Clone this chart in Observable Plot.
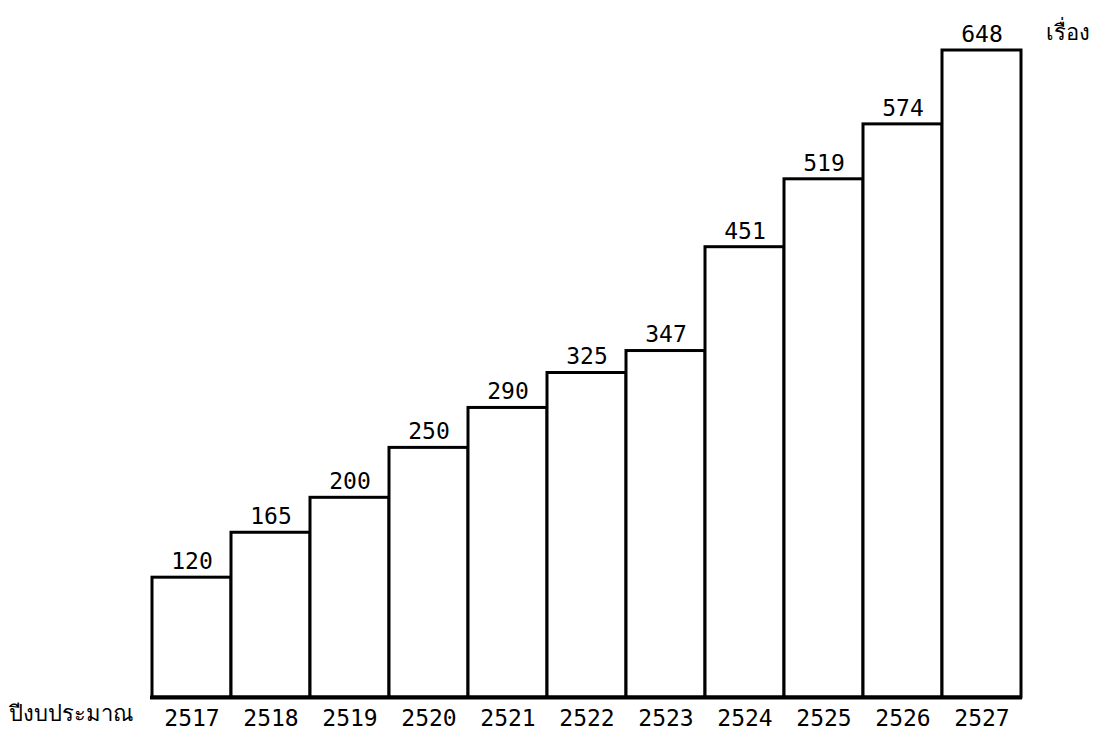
<!DOCTYPE html>
<html>
<head>
<meta charset="utf-8">
<script src="https://cdn.jsdelivr.net/npm/d3@7"></script>
<script src="https://cdn.jsdelivr.net/npm/@observablehq/plot@0.6"></script>
<style>
  html, body { margin: 0; padding: 0; background: #fff; }
  svg { display: block; }
</style>
</head>
<body>
<div id="chart"></div>
<script>
const years = ["2517","2518","2519","2520","2521","2522","2523","2524","2525","2526","2527"];
const counts = [120,165,200,250,290,325,347,451,519,574,648];
const xAxisTitle = "ปีงบประมาณ";
const yAxisTitle = "เรื่อง";

const data = years.map((y, i) => ({year: y, count: counts[i]}));
const font = "'DejaVu Sans Mono', 'Liberation Mono', monospace";
const thaiFont = "'Noto Sans', 'DejaVu Sans', sans-serif";

const chart = Plot.plot({
  width: 1110,
  height: 744,
  marginLeft: 150,
  marginRight: 88,
  marginTop: 50,
  marginBottom: 47,
  style: {fontFamily: font, fontSize: "23px", color: "#000", background: "#fff"},
  x: {domain: years, padding: 0, label: null},
  y: {domain: [0, 648], axis: null},
  marks: [
    Plot.barY(data, {x: "year", y: "count", fill: "#fff", stroke: "#000", strokeWidth: 3, inset: 0}),
    Plot.ruleY([0], {stroke: "#000", strokeWidth: 4}),
    Plot.text(data, {x: "year", y: "count", text: d => String(d.count), dy: -16, fontSize: 23, fill: "#000"}),
    Plot.axisX({tickSize: 0, tickPadding: 12, fontSize: 23, fontWeight: "normal", label: null, fill: "#000", stroke: null}),
    Plot.text([xAxisTitle], {frameAnchor: "bottom-left", dx: -18, dy: 23, textAnchor: "end", fontSize: 22, fill: "#000", fontFamily: thaiFont}),
    Plot.text([yAxisTitle], {frameAnchor: "top-right", dx: 45, dy: -26, textAnchor: "middle", fontSize: 22, fill: "#000", fontFamily: thaiFont})
  ]
});
document.getElementById("chart").appendChild(chart);
</script>
</body>
</html>
